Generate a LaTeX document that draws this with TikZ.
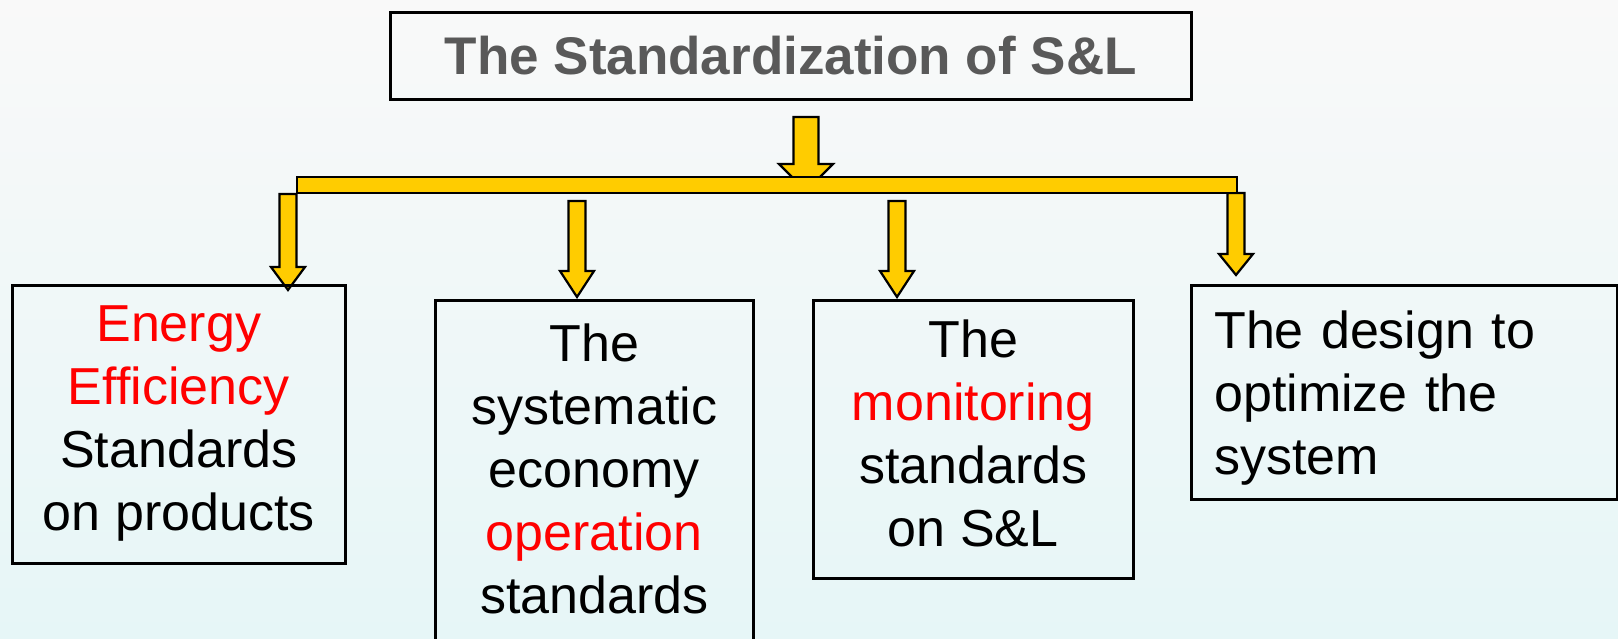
\documentclass[tikz,border=0pt]{standalone}
\usepackage{fontspec}
\setmainfont{Liberation Sans}
\usepackage{tikz}
\usetikzlibrary{positioning}
\definecolor{arrowyellow}{HTML}{FFCC00}
\definecolor{titlegray}{HTML}{595959}
\definecolor{bgtop}{HTML}{F9F9F9}
\definecolor{bgmid}{HTML}{F3F3F3}
\definecolor{bgbottom}{HTML}{E6F6F7}
% block arrow: x, top, base of head, tip, half shaft, half head
\newcommand{\blockarrow}[6]{%
  \draw[arrow style] ({#1-#5},#2) -- ({#1+#5},#2) -- ({#1+#5},#3) -- ({#1+#6},#3)
    -- (#1,#4) -- ({#1-#6},#3) -- ({#1-#5},#3) -- cycle;}
\newcommand{\topstrut}{\rule{0pt}{25.5pt}}
\newcommand{\botstrut}{\rule[-6pt]{0pt}{6pt}}

\begin{document}
\begin{tikzpicture}[x=0.5pt,y=-0.5pt]
  \tikzset{arrow style/.style = {draw=black, line width=1.1pt, fill=arrowyellow, line join=miter},
    box/.style = {draw=black, line width=1.25pt, anchor=north west, inner sep=0pt,
      align=center, font=\fontsize{26}{31.5}\selectfont,
      execute at begin node=\topstrut, execute at end node=\botstrut},
    title style/.style = {draw=black, line width=1.25pt, anchor=north west,
      minimum width=400.5pt, minimum height=43.5pt, text=titlegray,
      font=\fontsize{26.5}{31}\selectfont\bfseries}}
  \useasboundingbox (0,0) rectangle (1618,638);
  \shade[top color=bgtop, middle color=bgmid, bottom color=bgbottom] (0,0) rectangle (1618,638);
  % title
  \node[title style] (title) at (389,11) {The Standardization of S\&L};
  % arrows
  \blockarrow{806}{117}{164}{191}{12.5}{27}
  \foreach \x/\t/\b/\p in {288/194/267/290, 577/201/271/297, 897/201/271/297, 1236/193/254/275}
    \blockarrow{\x}{\t}{\b}{\p}{8.5}{17};
  \draw[arrow style] (297,177) rectangle (1237,193);
  % boxes
  \node[box, minimum width=166.5pt, minimum height=139pt] (energy) at (11,284)
    {\textcolor{red}{Energy}\\\textcolor{red}{Efficiency}\\Standards\\on products};
  \node[box, minimum width=159pt, minimum height=174pt] (economy) at (434,299)
    {The\\systematic\\economy\\\textcolor{red}{operation}\\standards};
  \node[box, minimum width=160pt, minimum height=139pt] (monitoring) at (812,299)
    {The\\\textcolor{red}{monitoring}\\standards\\on S\&L};
  \node[box, align=left, text width=190pt, inner xsep=11.5pt, minimum height=107pt] (design) at (1190,284)
    {The design to\\optimize the\\system};
\end{tikzpicture}
\end{document}
